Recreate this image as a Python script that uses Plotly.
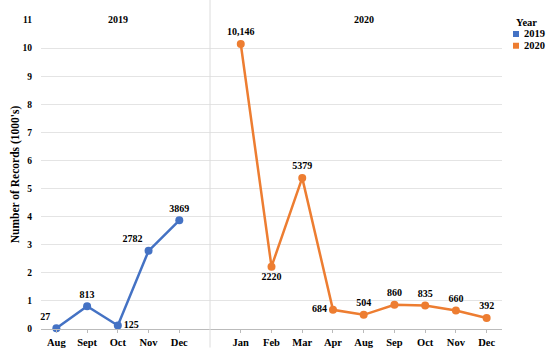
import plotly.graph_objects as go

months_2019 = ["Aug", "Sept", "Oct", "Nov", "Dec"]
values_2019 = [0.027, 0.813, 0.125, 2.782, 3.869]
labels_2019 = ["27", "813", "125", "2782", "3869"]
pos_2019 = ["top left", "top center", "middle right", "top left", "top center"]

months_2020 = ["Jan", "Feb", "Mar", "Apr", "Aug", "Sep", "Oct", "Nov", "Dec"]
values_2020 = [10.146, 2.220, 5.379, 0.684, 0.504, 0.860, 0.835, 0.660, 0.392]
labels_2020 = ["10,146", "2220", "5379", "684", "504", "860", "835", "660", "392"]
pos_2020 = ["top center", "bottom center", "top center", "middle left", "top center",
            "top center", "top center", "top center", "top center"]

y_ticks = list(range(0, 12))
legend_names = ["2019", "2020"]

BLUE = "#4472C4"
ORANGE = "#ED7D31"
FONT = "Liberation Serif"
BOLD = dict(family=FONT, color="black", weight="bold")

x19 = list(range(len(months_2019)))
x20 = [len(months_2019) + 1 + i for i in range(len(months_2020))]

fig = go.Figure()
for xs, ys, labels, pos, col in [(x19, values_2019, labels_2019, pos_2019, BLUE),
                                 (x20, values_2020, labels_2020, pos_2020, ORANGE)]:
    fig.add_trace(go.Scatter(
        x=xs, y=ys, mode="lines+markers+text", text=labels, textposition=pos,
        line=dict(color=col, width=2.5), marker=dict(size=8, color=col),
        cliponaxis=False, showlegend=False, textfont=dict(BOLD, size=10)))

# divider between the two year panels
fig.add_shape(type="line", xref="x", yref="paper", x0=len(months_2019), x1=len(months_2019),
              y0=-0.06, y1=1.07, line=dict(color="#dcdcdc", width=1))

# panel headers
fig.add_annotation(x=(x19[0] + x19[-1]) / 2, y=1.026, xref="x", yref="paper", text="2019",
                   showarrow=False, font=dict(BOLD, size=10))
fig.add_annotation(x=(x20[0] + x20[-1]) / 2, y=1.026, xref="x", yref="paper", text="2020",
                   showarrow=False, font=dict(BOLD, size=10))

# legend (title + square swatches)
fig.add_annotation(x=1.026, y=0.9935, xref="paper", yref="paper", text="Year",
                   xanchor="left", yanchor="middle", showarrow=False,
                   font=dict(BOLD, size=10.5))
for i, (name, col) in enumerate(zip(legend_names, [BLUE, ORANGE])):
    yc = 0.9547 - i * 0.038
    fig.add_shape(type="rect", xref="paper", yref="paper", x0=1.0239, x1=1.0369,
                  y0=yc - 0.0097, y1=yc + 0.0097, fillcolor=col, line=dict(width=0))
    fig.add_annotation(x=1.044, y=yc, xref="paper", yref="paper", text=name,
                       xanchor="left", yanchor="middle", showarrow=False,
                       font=dict(BOLD, size=10.5))

fig.update_layout(
    width=550, height=353, margin=dict(l=41, r=48, t=20, b=24),
    plot_bgcolor="white", paper_bgcolor="white",
    font=dict(family=FONT, size=10, color="black"),
    showlegend=False,
)
fig.update_xaxes(range=[-0.5, x20[-1] + 0.5], tickvals=x19 + x20,
                 ticktext=months_2019 + months_2020, showgrid=False, zeroline=False,
                 showline=True, linecolor="#bbbbbb", ticks="outside", ticklen=3,
                 tickcolor="#bbbbbb", automargin=False,
                 tickfont=dict(BOLD, size=10.5))
fig.update_yaxes(range=[0, 11], tickvals=y_ticks, showgrid=True, gridcolor="#e4e4e4",
                 zeroline=False, showline=False, automargin=False,
                 ticklabelstandoff=8,
                 tickfont=dict(BOLD, size=9.5),
                 title=dict(text="Number of Records (1000's)", standoff=0,
                            font=dict(BOLD, size=11.5)))

fig.write_html("out.html", config={"displayModeBar": False},
               post_script="document.body.style.margin='0';")
